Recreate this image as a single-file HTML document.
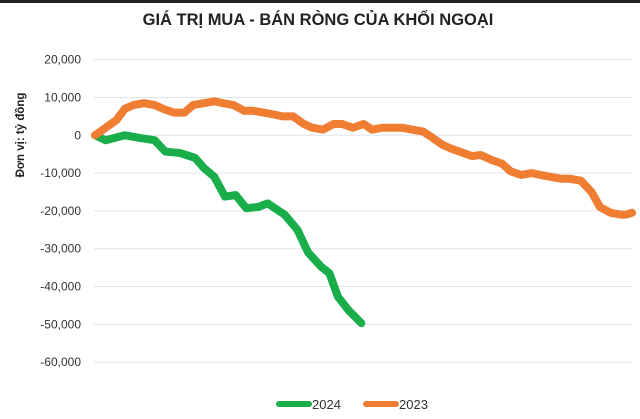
<!DOCTYPE html>
<html><head><meta charset="utf-8"><style>
body{margin:0;background:#fff;}
svg{display:block;font-family:"Liberation Sans",sans-serif;}
</style></head><body>
<svg width="640" height="419" viewBox="0 0 640 419">
<rect x="0" y="0" width="640" height="3" fill="#222"/>
<text x="318" y="25" text-anchor="middle" font-size="16.5" font-weight="bold" fill="#222">GIÁ TRỊ MUA - BÁN RÒNG CỦA KHỐI NGOẠI</text>
<text transform="translate(24,135) rotate(-90)" text-anchor="middle" font-size="11.5" font-weight="bold" fill="#222">Đơn vị: tỷ đồng</text>
<g id="grid"></g><g id="ylabels"></g><g id="lines"></g>
<g>
<line x1="279" y1="404" x2="309" y2="404" stroke="#1aae4a" stroke-width="6" stroke-linecap="round"/>
<text x="312" y="409" font-size="13" fill="#333">2024</text>
<line x1="366" y1="404" x2="396" y2="404" stroke="#ef7d32" stroke-width="6" stroke-linecap="round"/>
<text x="399" y="409" font-size="13" fill="#333">2023</text>
</g>
</svg>
<script>
const yTicks=[20000,10000,0,-10000,-20000,-30000,-40000,-50000,-60000];
const yTickLabels=["20,000","10,000","0","-10,000","-20,000","-30,000","-40,000","-50,000","-60,000"];
const days2023=[0,5,10,14,18,23,28,32,37,42,46,51,56,60,65,70,74,79,84,88,93,98,102,107,112,116,121,126,130,135,140,144,149,154,158,163,167,172,177,181,186,191,195,200,205,209,214,219,223,228,233,237,242,247,249,252];
const values2023=[0,2000,4000,7000,8000,8500,8000,7000,6000,6000,8000,8500,9000,8500,8000,6500,6500,6000,5500,5000,5000,3000,2000,1500,3000,3000,2000,3000,1500,2000,2000,2000,1500,1000,-500,-2500,-3500,-4500,-5500,-5200,-6500,-7500,-9500,-10500,-10000,-10500,-11000,-11500,-11500,-12000,-15000,-19000,-20500,-21000,-21000,-20500];
const days2024=[0,5,14,21,28,33,40,47,51,56,61,66,71,77,81,89,95,100,106,110,114,119,125];
const values2024=[0,-1300,0,-700,-1300,-4300,-4700,-6000,-8600,-11000,-16200,-15800,-19300,-18900,-18000,-21000,-25000,-31000,-34700,-36500,-42700,-46300,-49700];
const X0=95,X1=632,DAYS=252,Y0=135.3,PER=37.8/10000;
const xs=d=>X0+(X1-X0)*d/DAYS, ys=v=>Y0-v*PER;
const NS="http://www.w3.org/2000/svg";
const grid=document.getElementById('grid'),yl=document.getElementById('ylabels'),lines=document.getElementById('lines');
yTicks.forEach((t,i)=>{
 const l=document.createElementNS(NS,'line');
 l.setAttribute('x1',94);l.setAttribute('x2',632);l.setAttribute('y1',ys(t));l.setAttribute('y2',ys(t));
 l.setAttribute('stroke','#e2e4ea');l.setAttribute('stroke-width','1');
 
 
 grid.appendChild(l);
 const tx=document.createElementNS(NS,'text');
 tx.setAttribute('x',81);tx.setAttribute('y',ys(t)+4);tx.setAttribute('text-anchor','end');
 tx.setAttribute('font-size','12');tx.setAttribute('fill','#333');tx.textContent=yTickLabels[i];
 
 
 yl.appendChild(tx);
});
function draw(days,vals,color,name){
 const p=document.createElementNS(NS,'polyline');
 p.setAttribute('points',days.map((d,i)=>xs(d)+','+ys(vals[i])).join(' '));
 p.setAttribute('fill','none');p.setAttribute('stroke',color);p.setAttribute('stroke-width','8');
 p.setAttribute('stroke-linejoin','round');p.setAttribute('stroke-linecap','round');
 
 
 lines.appendChild(p);
}
draw(days2024,values2024,'#1aae4a','series-2024-line');
draw(days2023,values2023,'#ef7d32','series-2023-line');
</script>
</body></html>
